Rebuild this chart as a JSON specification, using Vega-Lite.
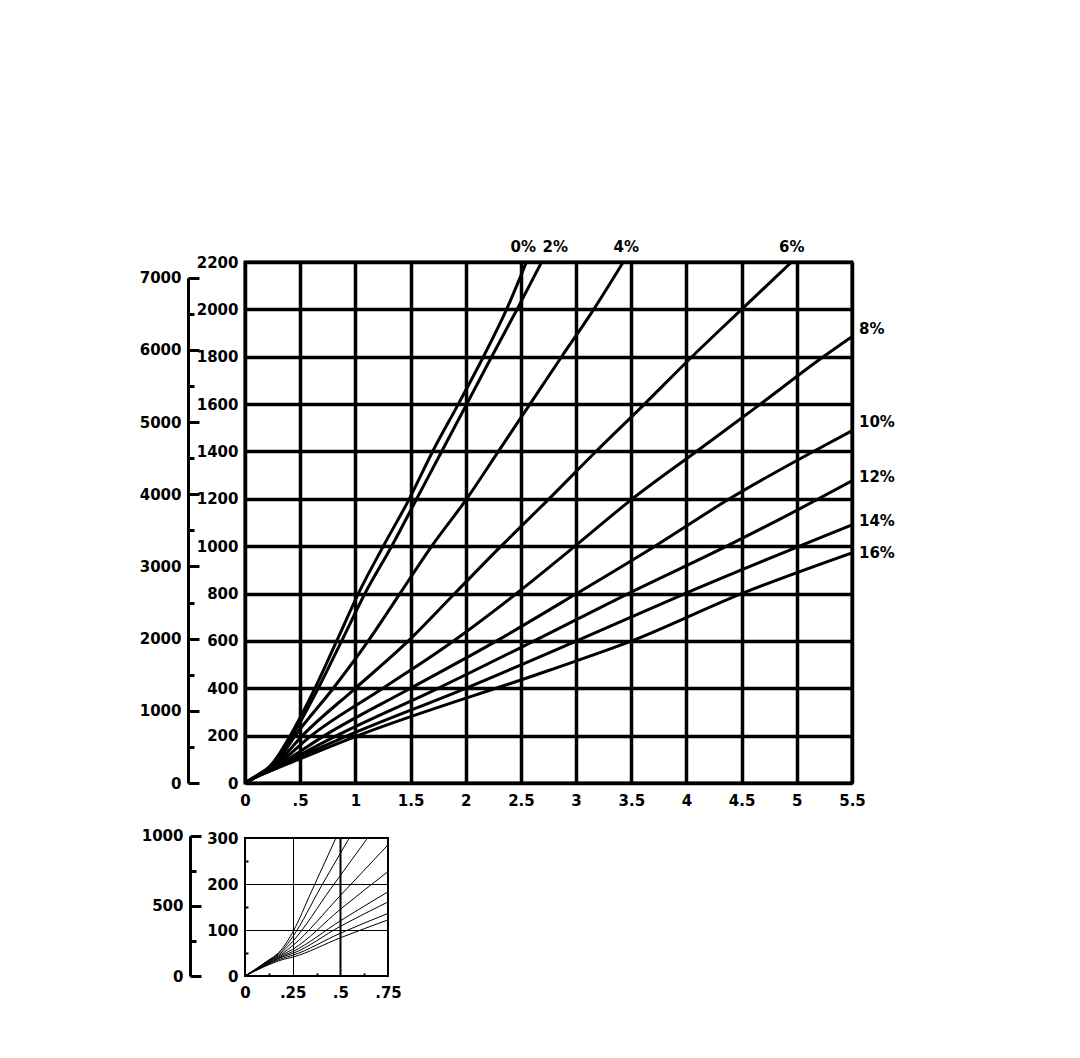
{
  "$schema": "https://vega.github.io/schema/vega-lite/v6.json",
  "autosize": {"type": "pad"},
  "padding": {"left": 137, "top": 238, "right": 5, "bottom": 5},
  "background": "white",
  "config": {
    "font": "DejaVu Sans",
    "axis": {"labelFont": "DejaVu Sans", "labelFontWeight": "bold", "labelFontSize": 15, "labelColor": "black", "tickColor": "black", "gridColor": "black", "domainColor": "black", "gridOpacity": 1, "title": null}
  },
  "datasets": {
    "main": [
      {"g": "0%", "x": 0, "m": 0}, {"g": "0%", "x": 0.12, "m": 35}, {"g": "0%", "x": 0.22, "m": 68}, {"g": "0%", "x": 0.32, "m": 130}, {"g": "0%", "x": 0.41, "m": 200}, {"g": "0%", "x": 0.634, "m": 400}, {"g": "0%", "x": 0.831, "m": 600}, {"g": "0%", "x": 1.027, "m": 800}, {"g": "0%", "x": 1.253, "m": 1000}, {"g": "0%", "x": 1.489, "m": 1200}, {"g": "0%", "x": 1.7, "m": 1400}, {"g": "0%", "x": 1.933, "m": 1600}, {"g": "0%", "x": 2.16, "m": 1800}, {"g": "0%", "x": 2.37, "m": 2000}, {"g": "0%", "x": 2.55, "m": 2200},
      {"g": "2%", "x": 0, "m": 0}, {"g": "2%", "x": 0.12, "m": 35}, {"g": "2%", "x": 0.22, "m": 66}, {"g": "2%", "x": 0.32, "m": 122}, {"g": "2%", "x": 0.43, "m": 200}, {"g": "2%", "x": 0.664, "m": 400}, {"g": "2%", "x": 0.876, "m": 600}, {"g": "2%", "x": 1.087, "m": 800}, {"g": "2%", "x": 1.329, "m": 1000}, {"g": "2%", "x": 1.556, "m": 1200}, {"g": "2%", "x": 1.782, "m": 1400}, {"g": "2%", "x": 2.009, "m": 1600}, {"g": "2%", "x": 2.235, "m": 1800}, {"g": "2%", "x": 2.465, "m": 2000}, {"g": "2%", "x": 2.688, "m": 2200},
      {"g": "4%", "x": 0, "m": 0}, {"g": "4%", "x": 0.12, "m": 34}, {"g": "4%", "x": 0.22, "m": 62}, {"g": "4%", "x": 0.32, "m": 108}, {"g": "4%", "x": 0.455, "m": 200}, {"g": "4%", "x": 0.8, "m": 400}, {"g": "4%", "x": 1.117, "m": 600}, {"g": "4%", "x": 1.404, "m": 800}, {"g": "4%", "x": 1.692, "m": 1000}, {"g": "4%", "x": 2.009, "m": 1200}, {"g": "4%", "x": 2.296, "m": 1400}, {"g": "4%", "x": 2.582, "m": 1600}, {"g": "4%", "x": 2.869, "m": 1800}, {"g": "4%", "x": 3.16, "m": 2000}, {"g": "4%", "x": 3.428, "m": 2200},
      {"g": "6%", "x": 0, "m": 0}, {"g": "6%", "x": 0.12, "m": 33}, {"g": "6%", "x": 0.22, "m": 58}, {"g": "6%", "x": 0.32, "m": 98}, {"g": "6%", "x": 0.52, "m": 200}, {"g": "6%", "x": 1.0, "m": 400}, {"g": "6%", "x": 1.48, "m": 600}, {"g": "6%", "x": 1.9, "m": 800}, {"g": "6%", "x": 2.32, "m": 1000}, {"g": "6%", "x": 2.755, "m": 1200}, {"g": "6%", "x": 3.18, "m": 1400}, {"g": "6%", "x": 3.62, "m": 1600}, {"g": "6%", "x": 4.05, "m": 1800}, {"g": "6%", "x": 4.5, "m": 2000}, {"g": "6%", "x": 4.953, "m": 2200},
      {"g": "8%", "x": 0, "m": 0}, {"g": "8%", "x": 0.12, "m": 32}, {"g": "8%", "x": 0.22, "m": 55}, {"g": "8%", "x": 0.32, "m": 88}, {"g": "8%", "x": 0.6, "m": 200}, {"g": "8%", "x": 1.25, "m": 400}, {"g": "8%", "x": 1.89, "m": 600}, {"g": "8%", "x": 2.46, "m": 800}, {"g": "8%", "x": 2.99, "m": 1000}, {"g": "8%", "x": 3.51, "m": 1200}, {"g": "8%", "x": 4.09, "m": 1400}, {"g": "8%", "x": 4.67, "m": 1600}, {"g": "8%", "x": 5.24, "m": 1800}, {"g": "8%", "x": 5.5, "m": 1885},
      {"g": "10%", "x": 0, "m": 0}, {"g": "10%", "x": 0.12, "m": 31}, {"g": "10%", "x": 0.22, "m": 53}, {"g": "10%", "x": 0.32, "m": 80}, {"g": "10%", "x": 0.72, "m": 200}, {"g": "10%", "x": 1.5, "m": 400}, {"g": "10%", "x": 2.28, "m": 600}, {"g": "10%", "x": 3.005, "m": 800}, {"g": "10%", "x": 3.715, "m": 1000}, {"g": "10%", "x": 4.39, "m": 1200}, {"g": "10%", "x": 5.15, "m": 1400}, {"g": "10%", "x": 5.5, "m": 1487},
      {"g": "12%", "x": 0, "m": 0}, {"g": "12%", "x": 0.12, "m": 30}, {"g": "12%", "x": 0.22, "m": 51}, {"g": "12%", "x": 0.32, "m": 75}, {"g": "12%", "x": 0.83, "m": 200}, {"g": "12%", "x": 1.75, "m": 400}, {"g": "12%", "x": 2.62, "m": 600}, {"g": "12%", "x": 3.473, "m": 800}, {"g": "12%", "x": 4.365, "m": 1000}, {"g": "12%", "x": 4.83, "m": 1110}, {"g": "12%", "x": 5.5, "m": 1276},
      {"g": "14%", "x": 0, "m": 0}, {"g": "14%", "x": 0.12, "m": 30}, {"g": "14%", "x": 0.22, "m": 50}, {"g": "14%", "x": 0.32, "m": 72}, {"g": "14%", "x": 0.93, "m": 200}, {"g": "14%", "x": 2.0, "m": 400}, {"g": "14%", "x": 3.005, "m": 600}, {"g": "14%", "x": 3.987, "m": 800}, {"g": "14%", "x": 5.5, "m": 1090},
      {"g": "16%", "x": 0, "m": 0}, {"g": "16%", "x": 0.12, "m": 29}, {"g": "16%", "x": 0.22, "m": 49}, {"g": "16%", "x": 0.32, "m": 68}, {"g": "16%", "x": 1.0, "m": 196}, {"g": "16%", "x": 2.764, "m": 477}, {"g": "16%", "x": 3.504, "m": 600}, {"g": "16%", "x": 4.5, "m": 800}, {"g": "16%", "x": 5.5, "m": 972}
    ],
    "labels": [
      {"t": "0%", "x": 2.522, "m": 2200, "pos": "top"},
      {"t": "2%", "x": 2.812, "m": 2200, "pos": "top"},
      {"t": "4%", "x": 3.455, "m": 2200, "pos": "top"},
      {"t": "6%", "x": 4.954, "m": 2200, "pos": "top"},
      {"t": "8%", "x": 5.5, "m": 1918, "pos": "right"},
      {"t": "10%", "x": 5.5, "m": 1526, "pos": "right"},
      {"t": "12%", "x": 5.5, "m": 1293, "pos": "right"},
      {"t": "14%", "x": 5.5, "m": 1108, "pos": "right"},
      {"t": "16%", "x": 5.5, "m": 972, "pos": "right"}
    ],
    "inset": [
      {"g": "0%", "x": 0, "m": 0}, {"g": "0%", "x": 0.1, "m": 28}, {"g": "0%", "x": 0.2, "m": 62}, {"g": "0%", "x": 0.25, "m": 95}, {"g": "0%", "x": 0.35, "m": 185}, {"g": "0%", "x": 0.477, "m": 300},
      {"g": "2%", "x": 0, "m": 0}, {"g": "2%", "x": 0.1, "m": 27}, {"g": "2%", "x": 0.2, "m": 58}, {"g": "2%", "x": 0.25, "m": 85}, {"g": "2%", "x": 0.4, "m": 195}, {"g": "2%", "x": 0.547, "m": 300},
      {"g": "4%", "x": 0, "m": 0}, {"g": "4%", "x": 0.1, "m": 26}, {"g": "4%", "x": 0.2, "m": 54}, {"g": "4%", "x": 0.25, "m": 75}, {"g": "4%", "x": 0.45, "m": 190}, {"g": "4%", "x": 0.643, "m": 300},
      {"g": "6%", "x": 0, "m": 0}, {"g": "6%", "x": 0.1, "m": 25}, {"g": "6%", "x": 0.2, "m": 50}, {"g": "6%", "x": 0.25, "m": 66}, {"g": "6%", "x": 0.5, "m": 175}, {"g": "6%", "x": 0.75, "m": 285},
      {"g": "8%", "x": 0, "m": 0}, {"g": "8%", "x": 0.1, "m": 24}, {"g": "8%", "x": 0.2, "m": 47}, {"g": "8%", "x": 0.25, "m": 58}, {"g": "8%", "x": 0.5, "m": 145}, {"g": "8%", "x": 0.75, "m": 227},
      {"g": "10%", "x": 0, "m": 0}, {"g": "10%", "x": 0.1, "m": 23}, {"g": "10%", "x": 0.2, "m": 44}, {"g": "10%", "x": 0.25, "m": 53}, {"g": "10%", "x": 0.5, "m": 120}, {"g": "10%", "x": 0.75, "m": 183},
      {"g": "12%", "x": 0, "m": 0}, {"g": "12%", "x": 0.1, "m": 22}, {"g": "12%", "x": 0.2, "m": 42}, {"g": "12%", "x": 0.25, "m": 49}, {"g": "12%", "x": 0.5, "m": 108}, {"g": "12%", "x": 0.75, "m": 161},
      {"g": "14%", "x": 0, "m": 0}, {"g": "14%", "x": 0.1, "m": 21}, {"g": "14%", "x": 0.2, "m": 39}, {"g": "14%", "x": 0.25, "m": 45}, {"g": "14%", "x": 0.5, "m": 93}, {"g": "14%", "x": 0.75, "m": 136},
      {"g": "16%", "x": 0, "m": 0}, {"g": "16%", "x": 0.1, "m": 20}, {"g": "16%", "x": 0.2, "m": 36}, {"g": "16%", "x": 0.25, "m": 41}, {"g": "16%", "x": 0.5, "m": 83}, {"g": "16%", "x": 0.75, "m": 122}
    ],
    "ftmain": [{"ft": 0}, {"ft": 7000}],
    "ftinset": [{"ft": 0}, {"ft": 1000}]
  },
  "spacing": 17,
  "vconcat": [
    {
      "width": 607,
      "height": 521,
      "view": {"stroke": "black", "strokeWidth": 3},
      "resolve": {"scale": {"y": "independent"}},
      "layer": [
        {
          "layer": [
            {
              "data": {"name": "main"},
              "mark": {"type": "line", "color": "black", "strokeWidth": 3, "clip": true, "interpolate": "monotone"},
              "encoding": {
                "x": {"field": "x", "type": "quantitative",
                  "scale": {"domain": [0, 5.5], "nice": false},
                  "axis": {"orient": "bottom", "values": [0, 0.25, 0.5, 0.75, 1, 1.25, 1.5, 1.75, 2, 2.25, 2.5, 2.75, 3, 3.25, 3.5, 3.75, 4, 4.25, 4.5, 4.75, 5, 5.25, 5.5],
                    "labelExpr": "datum.value % 0.5 === 0 ? replace(format(datum.value, '~g'), '0.', '.') : ''",
                    "domain": false, "grid": true,
                    "gridWidth": {"condition": {"test": "datum.value % 0.5 === 0", "value": 3.5}, "value": 0},
                    "tickSize": {"condition": {"test": "datum.value % 0.5 === 0", "value": 0}, "value": -4},
                    "tickWidth": 2, "labelPadding": 10, "labelFlush": false, "labelOverlap": false}},
                "y": {"field": "m", "type": "quantitative",
                  "scale": {"domain": [0, 2200], "nice": false},
                  "axis": {"orient": "left", "values": [0, 100, 200, 300, 400, 500, 600, 700, 800, 900, 1000, 1100, 1200, 1300, 1400, 1500, 1600, 1700, 1800, 1900, 2000, 2100, 2200],
                    "labelExpr": "datum.value % 200 === 0 ? format(datum.value, 'd') : ''",
                    "domain": false, "grid": true,
                    "gridWidth": {"condition": {"test": "datum.value % 200 === 0", "value": 3.5}, "value": 0},
                    "tickSize": {"condition": {"test": "datum.value % 200 === 0", "value": 0}, "value": -11},
                    "tickWidth": 3, "labelPadding": 7, "labelFlush": false, "labelOverlap": false}},
                "detail": {"field": "g", "type": "nominal"}
              }
            },
            {
              "data": {"name": "labels"},
              "transform": [{"filter": "datum.pos === 'top'"}],
              "mark": {"type": "text", "font": "DejaVu Sans", "fontWeight": "bold", "fontSize": 15, "color": "black", "align": "center", "baseline": "middle", "dy": -15},
              "encoding": {
                "x": {"field": "x", "type": "quantitative"},
                "y": {"field": "m", "type": "quantitative"},
                "text": {"field": "t"}
              }
            },
            {
              "data": {"name": "labels"},
              "transform": [{"filter": "datum.pos === 'right'"}],
              "mark": {"type": "text", "font": "DejaVu Sans", "fontWeight": "bold", "fontSize": 15, "color": "black", "align": "left", "baseline": "middle", "dx": 7},
              "encoding": {
                "x": {"field": "x", "type": "quantitative"},
                "y": {"field": "m", "type": "quantitative"},
                "text": {"field": "t"}
              }
            }
          ]
        },
        {
          "data": {"name": "ftmain"},
          "mark": {"type": "point", "opacity": 0},
          "encoding": {
            "y": {"field": "ft", "type": "quantitative",
              "scale": {"domain": [0, 7000], "range": [521, 15.73], "nice": false, "zero": true},
              "axis": {"orient": "left", "offset": 57, "values": [0, 500, 1000, 1500, 2000, 2500, 3000, 3500, 4000, 4500, 5000, 5500, 6000, 6500, 7000],
                "labelExpr": "datum.value % 1000 === 0 ? format(datum.value, 'd') : ''",
                "domain": true, "domainWidth": 3, "grid": false,
                "tickSize": {"condition": {"test": "datum.value % 1000 === 0", "value": -11}, "value": -6},
                "tickWidth": 3, "labelPadding": 18, "labelFlush": false, "labelOverlap": false}}
          }
        }
      ]
    },
    {
      "width": 143,
      "height": 138,
      "view": {"stroke": "black", "strokeWidth": 2},
      "resolve": {"scale": {"y": "independent"}},
      "layer": [
        {
          "data": {"name": "inset"},
          "mark": {"type": "line", "color": "black", "strokeWidth": 1, "clip": true, "interpolate": "monotone"},
          "encoding": {
            "x": {"field": "x", "type": "quantitative",
              "scale": {"domain": [0, 0.75], "nice": false},
              "axis": {"orient": "bottom", "values": [0, 0.125, 0.25, 0.375, 0.5, 0.625, 0.75],
                "labelExpr": "datum.value % 0.25 === 0 ? replace(format(datum.value, '~g'), '0.', '.') : ''",
                "domain": false, "grid": true,
                "gridWidth": {"condition": [{"test": "datum.value === 0.5", "value": 2}, {"test": "datum.value === 0.25", "value": 1}], "value": 0},
                "tickSize": {"condition": {"test": "datum.value % 0.25 === 0", "value": 0}, "value": -3},
                "tickWidth": 2, "labelPadding": 9, "labelFlush": false, "labelOverlap": false}},
            "y": {"field": "m", "type": "quantitative",
              "scale": {"domain": [0, 300], "nice": false},
              "axis": {"orient": "left", "values": [0, 50, 100, 150, 200, 250, 300],
                "labelExpr": "datum.value % 100 === 0 ? format(datum.value, 'd') : ''",
                "domain": false, "grid": true,
                "gridWidth": {"condition": {"test": "datum.value === 100 || datum.value === 200", "value": 1}, "value": 0},
                "tickSize": {"condition": {"test": "datum.value % 100 === 0", "value": 0}, "value": -3},
                "tickWidth": 2, "labelPadding": 7, "labelFlush": false, "labelOverlap": false}},
            "detail": {"field": "g", "type": "nominal"}
          }
        },
        {
          "data": {"name": "ftinset"},
          "mark": {"type": "point", "opacity": 0},
          "encoding": {
            "y": {"field": "ft", "type": "quantitative",
              "scale": {"domain": [0, 1000], "range": [138, -2.2], "nice": false},
              "axis": {"orient": "left", "offset": 55, "values": [0, 250, 500, 750, 1000],
                "labelExpr": "datum.value % 500 === 0 ? format(datum.value, 'd') : ''",
                "domain": true, "domainWidth": 3, "grid": false,
                "tickSize": {"condition": {"test": "datum.value % 500 === 0", "value": -11}, "value": -6},
                "tickWidth": 3, "labelPadding": 18, "labelFlush": false, "labelOverlap": false}}
          }
        }
      ]
    }
  ]
}
